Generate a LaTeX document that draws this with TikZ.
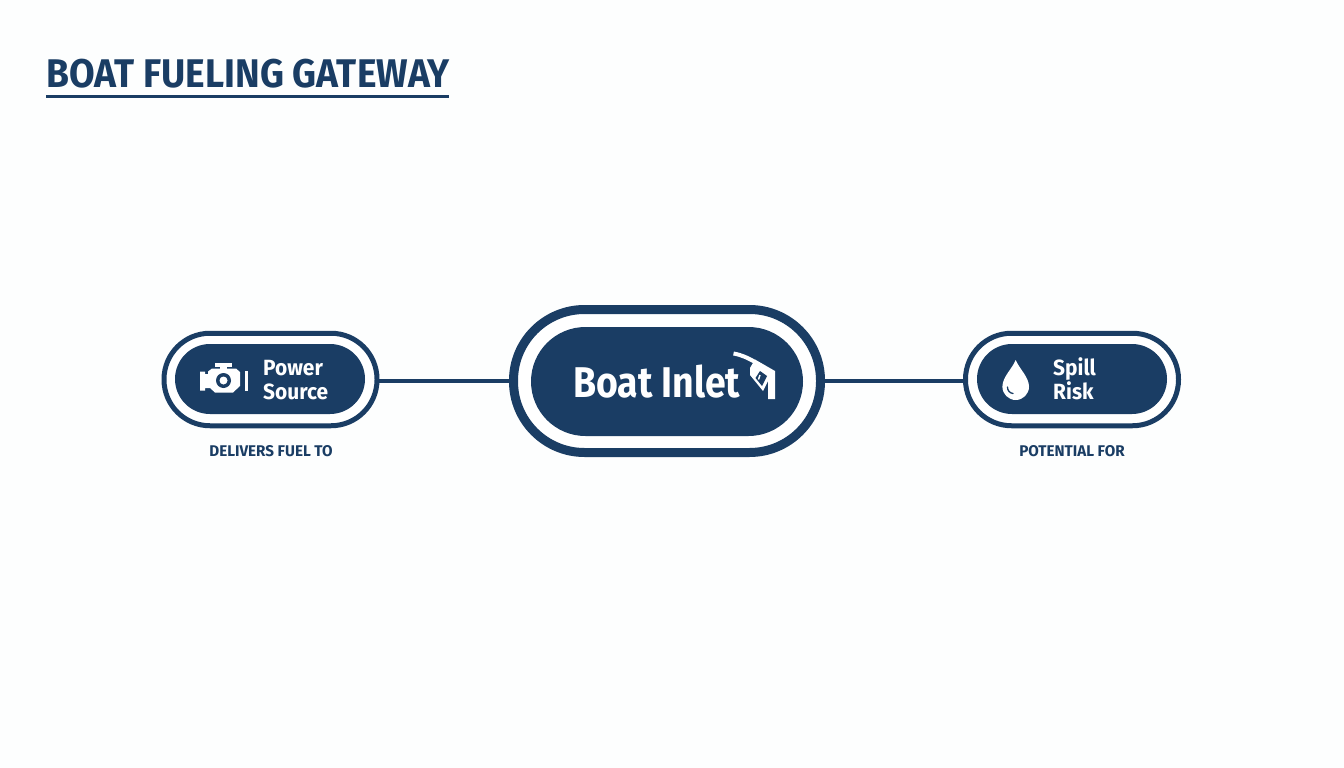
\documentclass[tikz,border=0pt]{standalone}
\usepackage{fontspec}
\newfontfamily\titlefont[FakeStretch=0.93]{Fira Sans}
\newfontfamily\boxfont[FakeStretch=0.95]{Fira Sans}
\newfontfamily\bigfont[FakeStretch=0.87]{Fira Sans}
\newfontfamily\capfont[FakeStretch=0.98]{Fira Sans}
\definecolor{navy}{HTML}{1A3D64}
\definecolor{paper}{HTML}{FDFEFE}
\tikzset{
  outerpill/.style={draw=navy,fill=white,rounded corners=#1},
  innerpill/.style={fill=navy,rounded corners=#1},
  linker/.style={draw=navy,line width=4.5pt,shorten >=-2pt,shorten <=-2pt,yshift=-0.5pt},
  nodetext/.style={text=white,font=\boxfont\bfseries\fontsize{22}{24}\selectfont,align=left,inner sep=0pt},
  caption/.style={text=navy,font=\capfont\bfseries\fontsize{15.5}{18}\selectfont,inner sep=0pt},
  icon/.style={fill=white,draw=none},
  cut/.style={fill=navy,draw=none}
}
\begin{document}
\begin{tikzpicture}[x=1pt,y=-1pt]
\fill[paper] (0,0) rectangle (1344,768);
\useasboundingbox (0,0) rectangle (1344,768);
% title
\node[anchor=base west,inner sep=0pt,text=navy,font=\titlefont\bfseries\fontsize{40}{44}\selectfont] (title) at (46,88) {BOAT FUELING GATEWAY};
\coordinate (ulstart) at (46,96.5);
\coordinate (ulend) at (448.5,96.5);
\draw[navy,line width=3pt] (ulstart) -- (ulend);
% pills
\node[outerpill=46pt,line width=5pt,minimum width=213pt,minimum height=92.5pt,inner sep=0pt] (power) at (270.5,379.5) {};
\node[innerpill=35pt,minimum width=190pt,minimum height=70pt,inner sep=0pt] (powerin) at (270,379) {};
\node[outerpill=71pt,line width=9pt,minimum width=307pt,minimum height=143pt,inner sep=0pt] (inlet) at (667,381) {};
\node[innerpill=54.5pt,minimum width=272pt,minimum height=109pt,inner sep=0pt] (inletin) at (667,381.5) {};
\node[outerpill=46pt,line width=5pt,minimum width=213pt,minimum height=92.5pt,inner sep=0pt] (spill) at (1072,379.5) {};
\node[innerpill=35pt,minimum width=190pt,minimum height=70pt,inner sep=0pt] (spillin) at (1072,379) {};
% connectors
\draw[linker] (inlet.west) -- (inlet.west -| power.east);
\draw[linker] (inlet.east) -- (inlet.east -| spill.west);
% texts
\node[nodetext,anchor=base west] (powert) at (263,375.5) {Power};
\node[nodetext,anchor=base west] (sourcet) at (263,399) {Source};
\node[nodetext,anchor=base west] (spillt) at (1053,375.5) {Spill};
\node[nodetext,anchor=base west] (riskt) at (1053,399) {Risk};
\node[anchor=base west,inner sep=0pt,text=white,font=\bigfont\bfseries\fontsize{43}{46}\selectfont] (inlett) at (573,397) {Boat Inlet};
\node[caption] (cap1) at (271,451.5) {DELIVERS FUEL TO};
\node[caption] (cap2) at (1072,451.5) {POTENTIAL FOR};
% engine icon
\fill[icon] (215,363) rectangle (232,366.5);
\fill[icon] (220,366.5) rectangle (227,370);
\fill[icon] (200,371.5) -- (205,371.5) -- (205,374) -- (208,374) -- (208,371.5) -- (212,368.5) -- (236,368.5) -- (240,372) -- (240,386) -- (233,392.5) -- (215,392.5) -- (210,388) -- (205,388) -- (205,390.5) -- (200,390.5) -- cycle;
\fill[icon] (244.5,371) rectangle (248,391);
\fill[cut] (223.5,380.5) circle (7.5);
\fill[icon] (223.5,380.5) circle (4);
% nozzle icon
\draw[white,line width=4pt] (733.5,353.5) .. controls (742,355) and (748,358) .. (755,362);
\fill[icon] (755,359.5) -- (775,371) -- (775,399) -- (768,399) -- (768,381) -- (763,391) -- (750,375) -- (750,368) -- cycle;
\fill[cut] (755.5,378) -- (760,371) -- (767,376) -- (762,386) -- cycle;
\draw[white,line width=1.5pt] (760,375) -- (758.5,379.5);
% drop icon
\fill[icon] (1015.7,360) .. controls (1012,369) and (1002.4,377) .. (1002.4,386.7) .. controls (1002.4,394) and (1008.4,400) .. (1015.7,400) .. controls (1023,400) and (1029,394) .. (1029,386.7) .. controls (1029,377) and (1019.4,369) .. (1015.7,360) -- cycle;
\draw[navy,line width=1.3pt,line cap=round] (1007.5,387) .. controls (1007.5,390.5) and (1009.5,393) .. (1013,393.5);
\end{tikzpicture}
\end{document}
